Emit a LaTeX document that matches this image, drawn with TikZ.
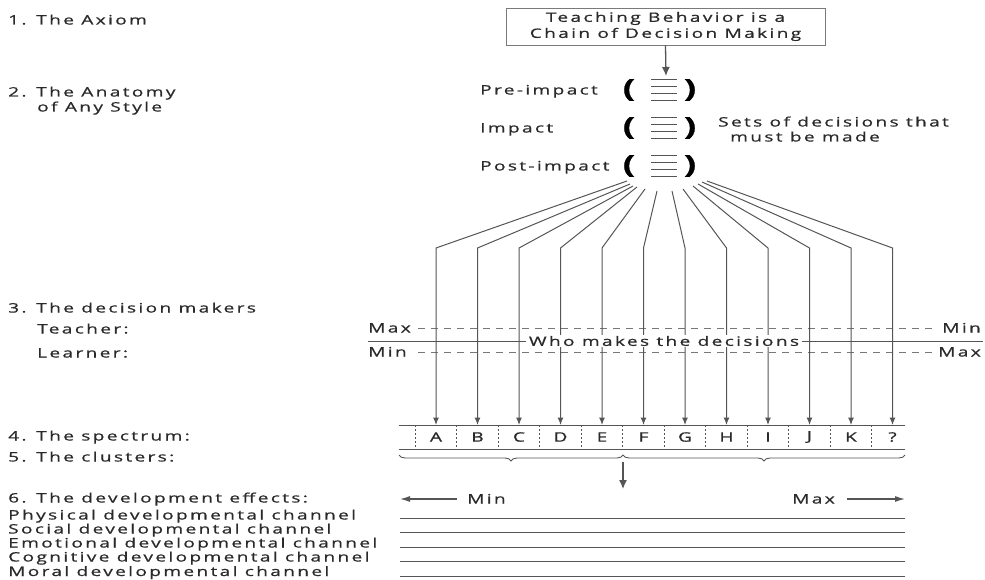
\documentclass[tikz,border=0pt]{standalone}
\usepackage{fontspec}
\setmainfont{Open Sans}[FakeStretch=1.47, LetterSpace=18, FakeBold=0.8]
\usetikzlibrary{arrows.meta,decorations.pathreplacing}
\definecolor{txt}{HTML}{2A2A2A}
\definecolor{lc}{HTML}{555555}
\definecolor{boxc}{HTML}{7A7A7A}
\tikzset{
  lbl/.style={anchor=base west, inner sep=0pt, text=txt, font=\fontsize{13}{15}\selectfont},
  lbr/.style={lbl, anchor=base east},
  ln/.style={draw=lc, line width=1pt},
  arr/.style={ln, -{Latex[length=7.5pt,width=6pt]}},
  dsh/.style={draw=lc!80, line width=0.9pt, dash pattern=on 7pt off 6pt},
  dots/.style={draw=lc, line width=0.9pt, dash pattern=on 2pt off 2pt},
  par/.style={inner sep=0pt, text=black, font=\fontsize{25}{25}\selectfont\bfseries},
}
\begin{document}
\begin{tikzpicture}[x=1pt,y=-1pt]
\useasboundingbox (0,0) rectangle (985,580);

% left labels
\node[lbl] (l1)  at (8,24.5) {1. The Axiom};
\node[lbl] (l2)  at (8,96.5) {2. The Anatomy};
\node[lbl] (l2b) at (37,111.5) {of Any Style};
\node[lbl] (l3)  at (8,312.5) {3. The decision makers};
\node[lbl] (lt)  at (37,333.5) {Teacher:};
\node[lbl] (ll)  at (37,357.5) {Learner:};
\node[lbl] (l4)  at (8,440.5) {4. The spectrum:};
\node[lbl] (l5)  at (8,461.5) {5. The clusters:};
\node[lbl] (l6)  at (8,502.5) {6. The development effects:};
\node[lbl] (c1)  at (8,519.5) {Physical developmental channel};
\node[lbl] (c2)  at (8,533.5) {Social developmental channel};
\node[lbl] (c3)  at (8,547.5) {Emotional developmental channel};
\node[lbl] (c4)  at (8,561.5) {Cognitive developmental channel};
\node[lbl] (c5)  at (8,576) {Moral developmental channel};

% axiom box
\node[draw=boxc, line width=0.9pt, minimum width=319pt, minimum height=37pt,
      align=center, text=txt, inner sep=0pt, font=\fontsize{13}{16}\selectfont]
      (box) at (665.5,26.5) {Teaching Behavior is a\\Chain of Decision Making};
\coordinate (boxtip) at (666,76);
\draw[ln, line width=1.3pt, -{Latex[length=9pt,width=8pt]}] (box.south) -- (boxtip);

% anatomy rows
\node[lbl] (pre)  at (480,94.5)  {Pre-impact};
\node[lbl] (imp)  at (480,132.5) {Impact};
\node[lbl] (post) at (480,170.5) {Post-impact};
\foreach \r/\y in {1/90,2/128,3/166}{
  \node[par] (pl\r) at (629,\y) {(};
  \node[par] (pr\r) at (690,\y) {)};
  \foreach \d in {-10.5,-3.5,3.5,10.5}{
    \draw[draw=lc, line width=0.8pt] (651,\y+\d) -- (677,\y+\d);
  }
}
\node[lbl] (sets1) at (718,126.5) {Sets of decisions that};
\node[lbl] (sets2) at (730,141.5) {must be made};

% fan to spectrum
\foreach \i/\ox/\oy in {0/627/181,1/630/184,2/633/186,3/637/187,4/645/189,5/657/191,
                        6/672/191,7/683/189,8/693/186,9/698/184,10/702/182,11/707/181}{
  \pgfmathsetmacro{\xx}{436+41.5*\i}
  \coordinate (o\i) at (\ox,\oy);
  \coordinate (t\i) at (\xx,248);
  \coordinate (s\i) at (\xx,425);
}

% decision makers (dashed lines under verticals)
\node[lbl] (maxL) at (368,332.5) {Max};
\node[lbr] (minR) at (981,332.5) {Min};
\node[lbl] (minL) at (368,356.5) {Min};
\node[lbr] (maxR) at (981,356.5) {Max};
\coordinate (d1a) at (418,328); \coordinate (d1b) at (932,328);
\coordinate (d2a) at (418,352); \coordinate (d2b) at (932,352);
\coordinate (sla) at (368,341); \coordinate (slb) at (983,341);
\draw[dsh] (d1a) -- (d1b);
\draw[dsh] (d2a) -- (d2b);
\draw[ln, line width=0.9pt] (sla) -- (slb);

\foreach \i in {0,...,11}{
  \draw[arr] (o\i) -- (t\i) -- (s\i);
}
\node[fill=white, text=txt, inner xsep=3pt, inner ysep=1pt,
      font=\fontsize{13}{15}\selectfont] (who) at (664,341) {Who makes the decisions};

% spectrum
\coordinate (sp1) at (399,425); \coordinate (sp2) at (905,425);
\coordinate (sp3) at (399,449); \coordinate (sp4) at (905,449);
\draw[ln, line width=0.9pt] (sp1) -- (sp2);
\draw[ln, line width=0.9pt] (sp3) -- (sp4);
\foreach \j in {0,...,11}{
  \pgfmathsetmacro{\sx}{415+41.5*\j}
  \coordinate (q\j) at (\sx,425);
  \coordinate (r\j) at (\sx,449);
  \draw[dots] (q\j) -- (r\j);
}
\foreach \L [count=\k from 0] in {A,B,C,D,E,F,G,H,I,J,K,?}{
  \pgfmathsetmacro{\lx}{436+41.5*\k}
  \node[text=txt, inner sep=0pt, font=\fontsize{13}{15}\selectfont] (let\k) at (\lx,437) {\L};
}

% clusters
\coordinate (b1) at (399,455); \coordinate (b2) at (623,455); \coordinate (b3) at (905,455);
\draw[draw=lc, line width=0.9pt, decorate, decoration={brace, mirror, amplitude=6pt}] (b1) -- (b2);
\draw[draw=lc, line width=0.9pt, decorate, decoration={brace, mirror, amplitude=6pt}] (b2) -- (b3);
\coordinate (ca) at (623,462); \coordinate (cb) at (623,489);
\draw[ln, line width=1.4pt, -{Latex[length=9pt,width=8pt]}] (ca) -- (cb);

% development effects
\node[lbl] (dmin) at (467,503.5) {Min};
\node[lbr] (dmax) at (835,503.5) {Max};
\coordinate (la) at (400,499); \coordinate (ra) at (905,499);
\draw[ln, line width=1.2pt, -{Latex[length=10pt,width=6pt]}] (dmin.west |- la) ++(-10,0) coordinate (lm) -- (la);
\draw[ln, line width=1.2pt, -{Latex[length=10pt,width=6pt]}] (dmax.east |- ra) ++(12,0) coordinate (rm) -- (ra);
\foreach \yy [count=\n] in {518,532,547,561,576}{
  \coordinate (h\n a) at (400,\yy); \coordinate (h\n b) at (905,\yy);
  \draw[draw=lc, line width=0.8pt] (h\n a) -- (h\n b);
}
\end{tikzpicture}
\end{document}
